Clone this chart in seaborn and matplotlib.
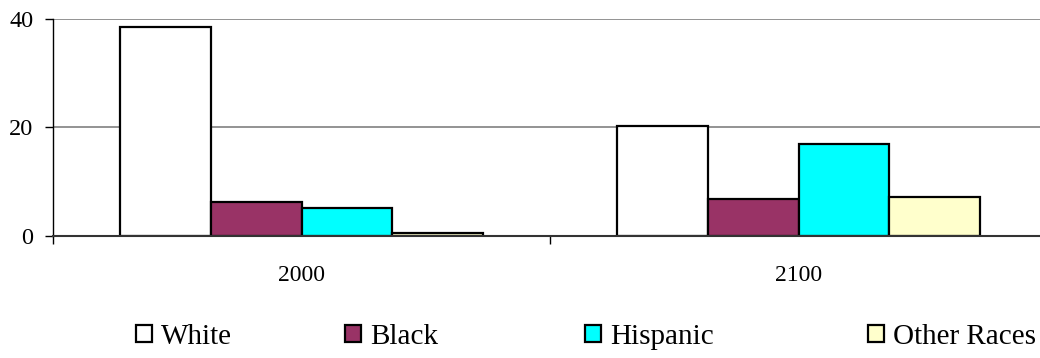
import matplotlib
matplotlib.use("Agg")
import matplotlib.pyplot as plt
import seaborn as sns
import pandas as pd

years = ["2000", "2100"]
groups = ["White", "Black", "Hispanic", "Other Races"]
white = [38.5, 20.3]
black = [6.3, 6.8]
hispanic = [5.2, 17.0]
other = [0.6, 7.1]
colors = ["#FFFFFF", "#993366", "#00FFFF", "#FFFFCC"]

df = pd.DataFrame({
    "year": years * 4,
    "group": [g for g in groups for _ in years],
    "value": white + black + hispanic + other,
})

sns.set_theme(style="white")
plt.rcParams["font.family"] = ["Liberation Serif", "DejaVu Serif"]
plt.rcParams["text.color"] = "black"
plt.rcParams["xtick.color"] = "black"
plt.rcParams["ytick.color"] = "black"

fig = plt.figure(figsize=(10.4, 3.58), dpi=100)
W, H = 1040, 358
left, right, top, bottom = 53, 1047, 19, 236
ax = fig.add_axes([left / W, 1 - bottom / H, (right - left) / W, (bottom - top) / H])

sns.barplot(data=df, x="year", y="value", hue="group", hue_order=groups,
            palette=colors, width=0.73, gap=0, edgecolor="black",
            linewidth=1.6, saturation=1, ax=ax)

ax.set_xlim(-0.5, 1.5)
ax.set_ylim(0, 40)
ax.set_yticks([0, 20, 40])
ax.set_xlabel("")
ax.set_ylabel("")
ax.yaxis.grid(True, color="#808080", linewidth=1.2)
ax.set_axisbelow(True)

for s in ["top", "right"]:
    ax.spines[s].set_visible(False)
ax.spines["left"].set_color("black")
ax.spines["left"].set_linewidth(1.0)
ax.spines["bottom"].set_color("#333333")
ax.spines["bottom"].set_linewidth(1.5)

ax.tick_params(axis="y", direction="out", length=6, width=1, color="black",
               labelsize=17.5, pad=8, left=True, labelcolor="black")
ax.tick_params(axis="x", which="major", length=0, labelsize=17, pad=21,
               labelcolor="black")
ax.set_xticks([-0.5, 0.5, 1.5], minor=True)
ax.tick_params(axis="x", which="minor", direction="out", length=6, width=1,
               color="black", bottom=True)

# One legend entry per group, spread along the bottom of the figure
handles, labels = ax.get_legend_handles_labels()
ax.get_legend().remove()
entry_x = [136, 345, 585, 868]
for h, lab, x in zip(handles, labels, entry_x):
    leg = fig.legend([h], [lab], loc="center left",
                     bbox_to_anchor=(x / W, 1 - 337 / H),
                     frameon=False, fontsize=21, handlelength=0.55,
                     handleheight=0.55, handletextpad=0.3,
                     borderaxespad=0, borderpad=0)
    for t in leg.get_texts():
        t.set_color("black")

fig.savefig("out.png", dpi=100)
